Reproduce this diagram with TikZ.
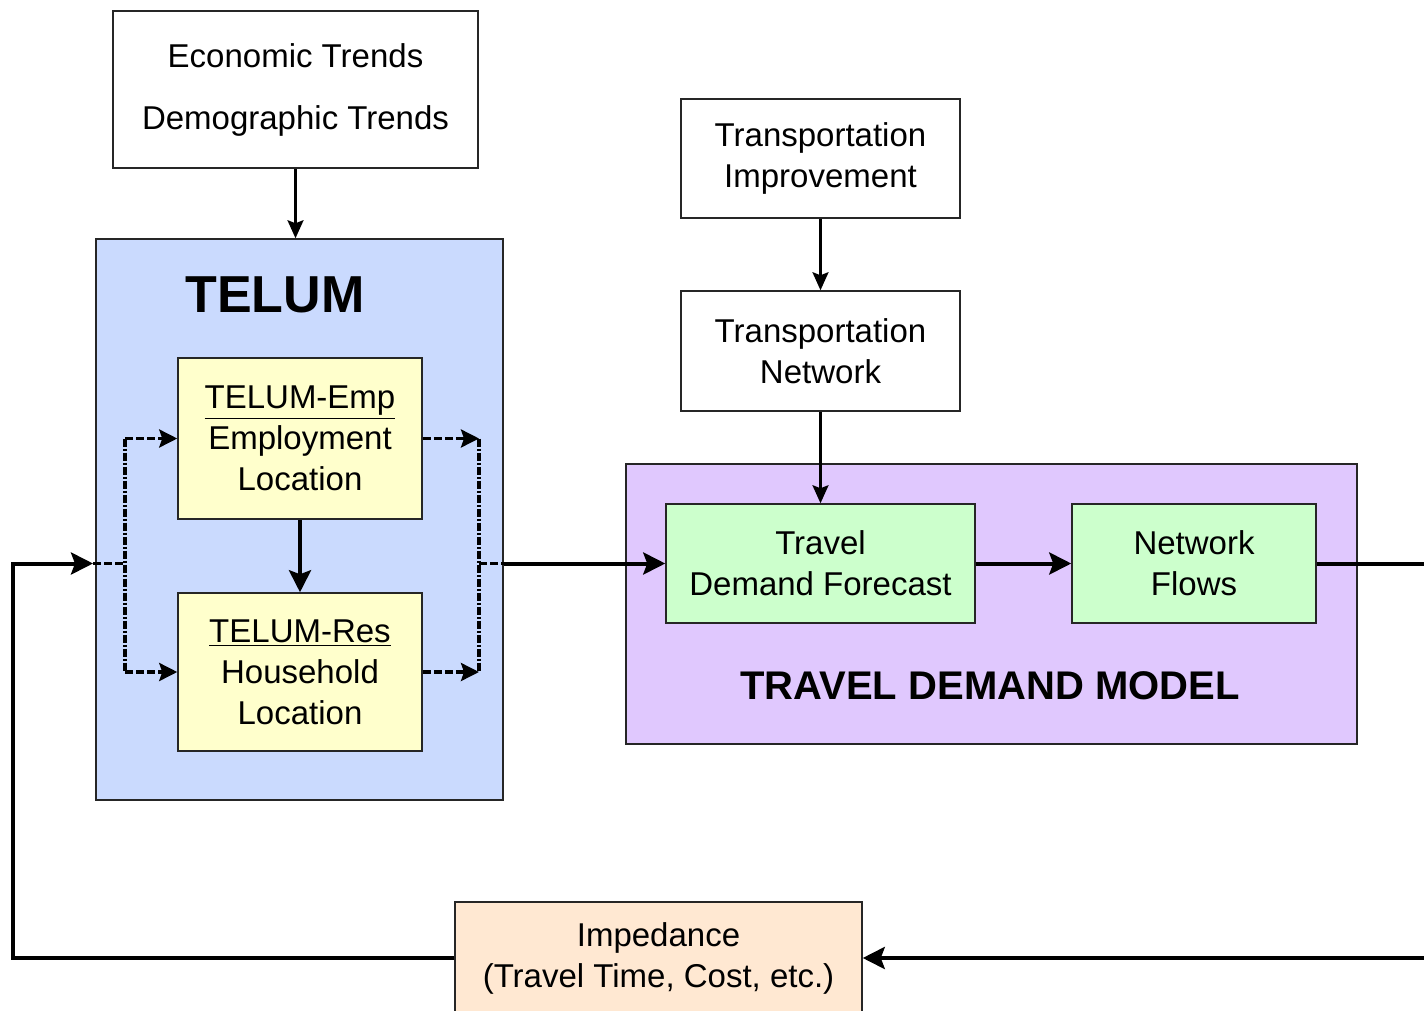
\documentclass[tikz,border=0pt]{standalone}
\usepackage{fontspec}
\setmainfont{Liberation Sans}
\usetikzlibrary{arrows.meta}
\definecolor{telumblue}{HTML}{CADAFE}
\definecolor{tdmpurple}{HTML}{E0C8FE}
\definecolor{boxyellow}{HTML}{FFFFCC}
\definecolor{boxgreen}{HTML}{CCFFCC}
\definecolor{boxpeach}{HTML}{FFE8D2}
\tikzset{
  box/.style={draw=black!85, line width=0.75pt, rectangle, inner sep=0pt, align=center,
    font=\fontsize{16.5}{20.5}\selectfont},
  thin arrow/.style={line width=1.25pt, -{Stealth[length=9pt, width=8pt, inset=1.5pt]}},
  thick arrow/.style={line width=2pt, -{Stealth[length=11pt, width=11pt, inset=2pt]}},
  thick line/.style={line width=2pt},
  dash arrow/.style={line width=1.6pt, dash pattern=on 4pt off 1.5pt,
    -{Stealth[length=9pt, width=9pt, inset=1.5pt]}},
  dash vert/.style={line width=1.6pt, dash pattern=on 4pt off 1pt on 1pt off 1pt},
  dash line/.style={line width=1.6pt, dash pattern=on 4pt off 1.5pt},
  title/.style={font=\fontsize{26}{30}\selectfont\bfseries, inner sep=0pt},
}
\begin{document}
\begin{tikzpicture}[x=0.5pt, y=-0.5pt]
\useasboundingbox (0,0) rectangle (1424,1011);
\clip (0,0) rectangle (1424,1011);
\fill[white] (0,0) rectangle (1424,1011);

% big group boxes
\node[box, fill=telumblue, minimum width=203.5pt, minimum height=280.5pt] (telum) at (299.5,519.5) {};
\node[title] (telumt) at (275,295) {TELUM};
\node[box, fill=tdmpurple, minimum width=365.5pt, minimum height=140pt] (tdm) at (991.5,604) {};
\node[title, font=\fontsize{20}{24}\selectfont\bfseries] (tdmt) at (990,686) {TRAVEL DEMAND MODEL};

% boxes
\node[box, fill=white, minimum width=182.5pt, minimum height=78.5pt,
  font=\fontsize{16.5}{31}\selectfont] (trends) at (295.5,89.5) {Economic Trends\\Demographic Trends};
\node[box, fill=boxyellow, minimum width=122pt, minimum height=80.5pt] (emp) at (300,438.5)
  {\underline{TELUM-Emp}\\Employment\\Location};
\node[box, fill=boxyellow, minimum width=122pt, minimum height=79pt] (res) at (300,672)
  {\underline{TELUM-Res}\\Household\\Location};
\node[box, fill=white, minimum width=139.5pt, minimum height=59.5pt] (ti) at (820.5,158.5)
  {Transportation\\Improvement};
\node[box, fill=white, minimum width=139.5pt, minimum height=60pt] (tn) at (820.5,351)
  {Transportation\\Network};
\node[box, fill=boxgreen, minimum width=154.5pt, minimum height=59.5pt] (tdf) at (820.5,563.5)
  {Travel\\Demand Forecast};
\node[box, fill=boxgreen, minimum width=122pt, minimum height=59.5pt] (nf) at (1194,563.5)
  {Network\\Flows};
\node[box, fill=boxpeach, minimum width=203.5pt, minimum height=56pt] (imp) at (658.5,958)
  {Impedance\\(Travel Time, Cost, etc.)};

% coordinates
\coordinate (outA) at (1440,563.5);
\coordinate (outB) at (1440,958);
\coordinate (fbBL) at (13,958);
\coordinate (fbTL) at (13,563.5);
\coordinate (fbIn) at (93,563.5);
\coordinate (lm) at (125,563.5);
\coordinate (lt) at (125,438.5);
\coordinate (lb) at (125,672);
\coordinate (rt) at (479,438.5);
\coordinate (rb) at (479,672);
\coordinate (rm) at (479,563.5);

% connectors
\draw[thin arrow] (trends.south) -- (trends.south |- telum.north);
\draw[thin arrow] (ti.south) -- (tn.north);
\draw[thin arrow] (tn.south) -- (tdf.north);
\draw[thick arrow] (emp.south) -- (res.north);
\draw[thick arrow] (tdf.east) -- (nf.west);
\draw[thick line] (nf.east) -- (outA);
\draw[thick arrow] (outB) -- (imp.east);
\draw[thick arrow] (imp.west) -- (fbBL) -- (fbTL) -- (fbIn);
\draw[dash line] (fbIn) -- (lm);
\draw[dash vert] (lt) -- (lb);
\draw[dash arrow] (lt) -- (emp.west);
\draw[dash arrow] (lb) -- (res.west);
\draw[dash arrow] (emp.east) -- (rt);
\draw[dash arrow] (res.east) -- (rb);
\draw[dash vert] (rt) -- (rb);
\draw[dash line] (rm) -- (rm -| telum.east);
\draw[thick arrow] (rm -| telum.east) -- (tdf.west);
\end{tikzpicture}
\end{document}
